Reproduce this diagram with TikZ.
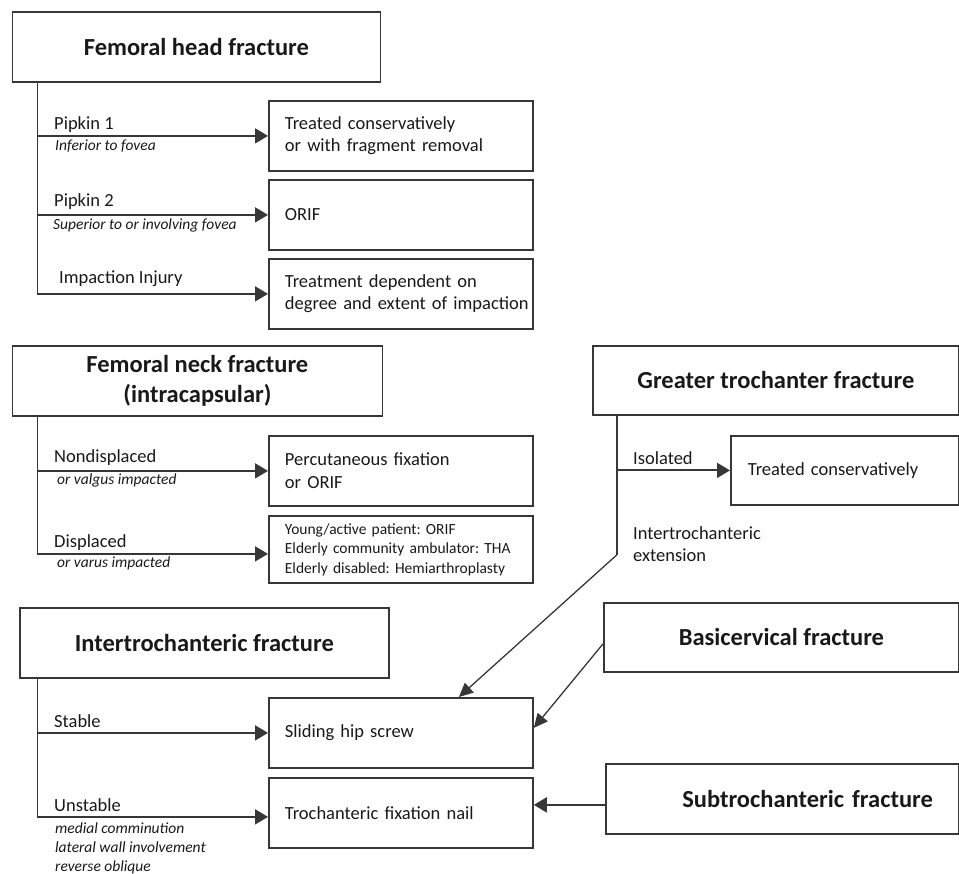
\documentclass[tikz,border=0pt]{standalone}
\usepackage{fontspec}
\setmainfont{Carlito}
\usetikzlibrary{arrows.meta,positioning,calc}
\definecolor{lncol}{RGB}{55,55,55}
\definecolor{txcol}{RGB}{25,25,25}
\newcommand{\hdsize}{\fontsize{24.5}{30}\selectfont\bfseries}
\newcommand{\txsize}{\fontsize{18.5}{22.5}\selectfont}
\newcommand{\smsize}{\fontsize{15.5}{19.5}\selectfont}
\newcommand{\itsize}{\fontsize{15.5}{19}\selectfont\itshape}
\frenchspacing
\tikzset{
  hbox/.style={draw=lncol, line width=1.8pt, text=txcol, font=\hdsize, align=center,
               inner sep=0pt, anchor=north west},
  tbox/.style={draw=lncol, line width=1.8pt, text=txcol, font=\txsize, align=left,
               inner xsep=16pt, inner ysep=0pt, anchor=north west, text width=232pt,
               minimum width=264pt, minimum height=70pt},
  lbl/.style={text=txcol, font=\txsize, anchor=west, inner sep=0pt, align=left},
  sub/.style={text=txcol, font=\itsize, anchor=west, inner sep=0pt, align=left},
  ln/.style={lncol, line width=1.8pt},
  arr/.style={lncol, line width=1.8pt, -{Triangle[length=13pt,width=15pt]}},
  darr/.style={lncol, line width=1.3pt, -{Triangle[length=14pt,width=13pt]}},
}
\begin{document}
\begin{tikzpicture}[x=1pt, y=-1pt]
  \useasboundingbox (0,0) rectangle (959,874);

  % femoral head
  \node[hbox, minimum width=368pt, minimum height=70pt] (headF) at (11.5,11) {Femoral head fracture};
  \node[tbox] (hp1) at (268,100) {Treated conservatively\\or with fragment removal};
  \node[tbox] (hp2) at (268,179) {ORIF};
  \node[tbox] (hp3) at (268,258) {Treatment dependent on\\\mbox{degree and extent of impaction}};
  \node[lbl] (lp1) at (54,125) {Pipkin 1};
  \node[sub] (lp1s) at (55,146) {Inferior to fovea};
  \node[lbl] (lp2) at (54,202) {Pipkin 2};
  \node[sub] (lp2s) at (53,225) {Superior to or involving fovea};
  \node[lbl] (lp3) at (59,279) {Impaction Injury};
  \coordinate (hroot) at (37.4,81);
  \draw[arr] (hroot) |- (hp3.west);
  \draw[arr] (hroot |- hp1.west) -- (hp1.west);
  \draw[arr] (hroot |- hp2.west) -- (hp2.west);

  % femoral neck
  \node[hbox, minimum width=370pt, minimum height=70pt] (neckF) at (11.5,345) {Femoral neck fracture\\(intracapsular)};
  \node[tbox] (nk1) at (268,435) {Percutaneous fixation\\or ORIF};
  \node[tbox, font=\smsize, minimum height=67pt] (nk2) at (268,515)
    {Young/active patient: ORIF\\Elderly community ambulator: THA\\Elderly disabled: Hemiarthroplasty};
  \node[lbl] (ln1) at (54,458) {Nondisplaced};
  \node[sub] (ln1s) at (57,480) {or valgus impacted};
  \node[lbl] (ln2) at (54,543) {Displaced};
  \node[sub] (ln2s) at (57,563) {or varus impacted};
  \coordinate (nroot) at (37.4,415);
  \draw[arr] (nroot) |- ([yshift=-4.5pt]nk2.west);
  \draw[arr] (nroot |- nk1.west) -- (nk1.west);

  % greater trochanter
  \node[hbox, minimum width=366pt, minimum height=69pt] (gtF) at (592,345) {Greater trochanter fracture};
  \node[tbox, text width=194pt, minimum width=228pt, inner xsep=17pt, minimum height=69pt] (gt1) at (730,435) {Treated conservatively};
  \node[lbl] (lg1) at (633,458) {Isolated};
  \node[lbl] (lg2) at (633,544) {Intertrochanteric\\extension};
  \coordinate (groot) at (616.7,414);
  \coordinate (gtend) at (616.7,555);
  \draw[ln] (groot) -- (gtend);
  \draw[arr] (groot |- gt1.west) -- (gt1.west);

  % intertrochanteric
  \node[hbox, minimum width=369pt, minimum height=70pt] (itF) at (19,607) {Intertrochanteric fracture};
  \node[tbox] (shs) at (268,697) {Sliding hip screw};
  \node[tbox] (tfn) at (268,777) {Trochanteric fixation nail};
  \node[lbl] (li1) at (54,721) {Stable};
  \node[lbl] (li2) at (54,805) {Unstable};
  \node[sub] (li2s) at (55,848) {medial comminution\\lateral wall involvement\\reverse oblique};
  \coordinate (iroot) at (37.4,677);
  \draw[arr] (iroot) |- ([yshift=-4pt]tfn.west);
  \draw[arr] (iroot |- shs.west) -- (shs.west);

  % basicervical + subtrochanteric
  \node[hbox, minimum width=355pt, minimum height=69pt] (bcF) at (603,602) {Basicervical fracture};
  \node[hbox, minimum width=353pt, minimum height=70pt, text width=301pt, align=right, inner xsep=26pt] (stF) at (605,763) {Subtrochanteric fracture};

  \draw[darr] (gtend) -- ([xshift=58pt]shs.north);
  \draw[darr] ([yshift=-6.5pt]bcF.west) -- ([yshift=5pt]shs.east);
  \draw[arr] ([yshift=-6pt]stF.west) -- ([yshift=-6pt]stF.west -| tfn.east);
\end{tikzpicture}
\end{document}
